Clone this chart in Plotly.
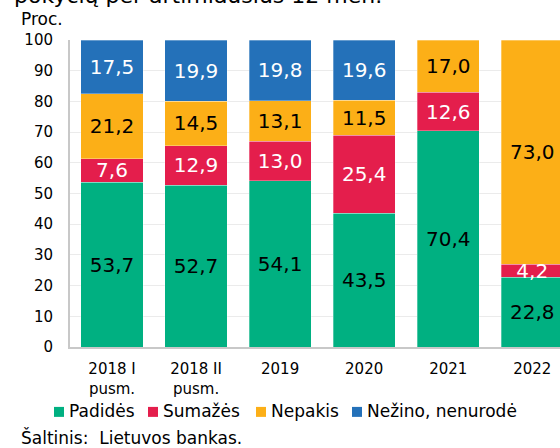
import plotly.graph_objects as go

categories = ["2018 I<br>pusm.", "2018 II<br>pusm.", "2019", "2020", "2021", "2022"]
padides = [53.7, 52.7, 54.1, 43.5, 70.4, 22.8]
sumazes = [7.6, 12.9, 13.0, 25.4, 12.6, 4.2]
nepakis = [21.2, 14.5, 13.1, 11.5, 17.0, 73.0]
nezino = [17.5, 19.9, 19.8, 19.6, None, None]
y_ticks = list(range(0, 101, 10))

series = [
    ("Padidės", padides, "#00B081", "black"),
    ("Sumažės", sumazes, "#E41E4C", "white"),
    ("Nepakis", nepakis, "#FCAF17", "black"),
    ("Nežino, nenurodė", nezino, "#2471B9", "white"),
]

FONT = "DejaVu Sans"
W, H = 560, 448
L, T, B = 70, 39.5, 347.0

def px(x):
    return (x - L) / (W - L)

def py(y):
    return (B - y) / (B - T)

fig = go.Figure()
for name, vals, color, tcolor in series:
    fig.add_trace(go.Bar(
        x=categories, y=vals, name=name,
        marker=dict(color=color, line=dict(width=0.5, color="rgba(255,255,255,0.6)")),
        text=[("" if v is None else f"{v:.1f}".replace(".", ",")) for v in vals],
        textposition="inside", insidetextanchor="middle", constraintext="none",
        textfont=dict(family=FONT, size=20, color=tcolor),
        width=0.74, showlegend=False, hoverinfo="skip",
    ))

fig.update_layout(
    barmode="stack",
    width=W, height=H,
    margin=dict(l=L, r=0, t=T, b=H - B),
    paper_bgcolor="white", plot_bgcolor="white",
    font=dict(family=FONT, size=15, color="black"),
    xaxis=dict(range=[-0.5, 5.33], showgrid=False, showline=True, linecolor="#C8C8C8",
               linewidth=2, tickfont=dict(size=15), ticks="", ticklabelstandoff=7,
               fixedrange=True),
    yaxis=dict(range=[0, 100], tickvals=y_ticks, showgrid=True, gridcolor="#EBEBEB",
               gridwidth=1, showline=True, linecolor="#C8C8C8", linewidth=2,
               tickfont=dict(size=15), ticks="", ticklabelstandoff=12, zeroline=False,
               fixedrange=True),
)

ann = []
shapes = []
# partial title (cut off at top in the original)
ann.append(dict(text="pokyčių per artimiausius 12 mėn.", xref="paper", yref="paper",
                x=px(12), y=py(9.5), xanchor="left", yanchor="bottom", showarrow=False,
                font=dict(size=22, family=FONT)))
ann.append(dict(text="Proc.", xref="paper", yref="paper", x=px(19), y=py(18),
                xanchor="left", yanchor="middle", showarrow=False, font=dict(size=17, family=FONT)))
ann.append(dict(text="Šaltinis:  Lietuvos bankas.", xref="paper", yref="paper", x=px(19), y=py(438),
                xanchor="left", yanchor="middle", showarrow=False, font=dict(size=17, family=FONT)))
# manual legend
leg_x = [54, 148, 256, 352]
for (name, vals, color, tcolor), lx in zip(series, leg_x):
    shapes.append(dict(type="rect", xref="paper", yref="paper", x0=px(lx), x1=px(lx + 10),
                       y0=py(417), y1=py(407), fillcolor=color, line=dict(width=0)))
    ann.append(dict(text=name, xref="paper", yref="paper", x=px(lx + 13), y=py(411),
                    xanchor="left", yanchor="middle", showarrow=False,
                    font=dict(size=17, family=FONT)))
fig.update_layout(annotations=ann, shapes=shapes)

fig.write_html("out.html", config={"displayModeBar": False, "staticPlot": True},
               post_script="document.body.style.margin='0';document.body.style.overflow='hidden';")
